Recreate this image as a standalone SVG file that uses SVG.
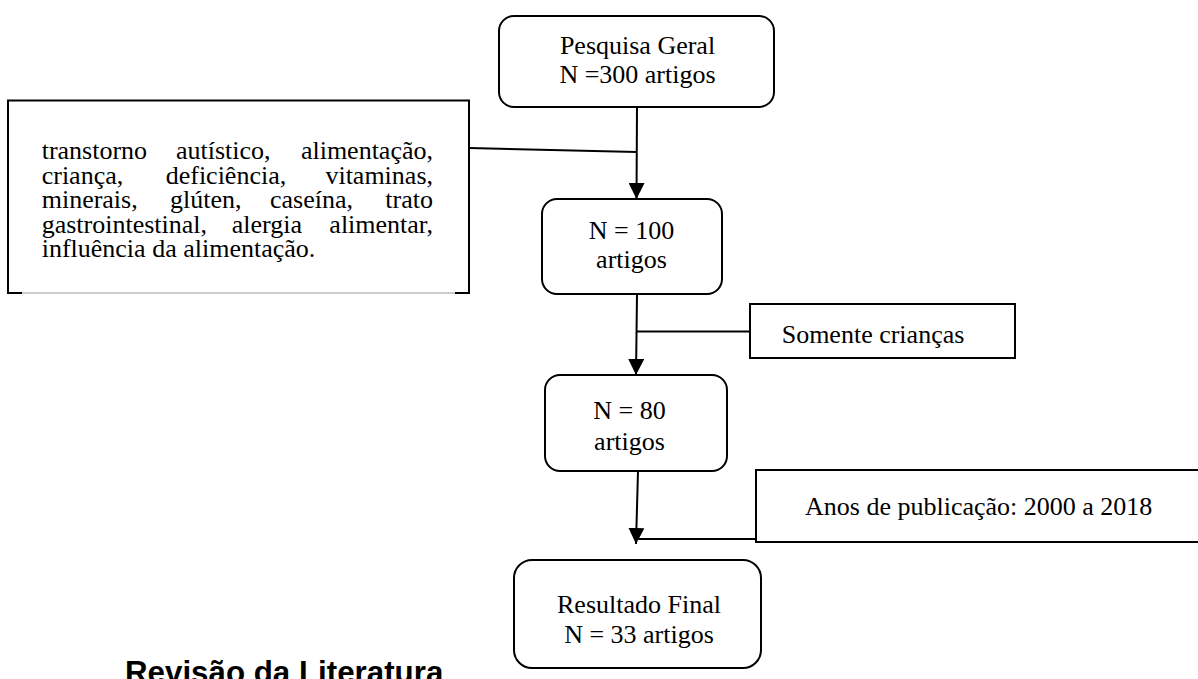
<svg xmlns="http://www.w3.org/2000/svg" width="1198" height="679" viewBox="0 0 1198 679">
<style>
.t{font-family:"Liberation Serif","Times New Roman",serif;font-size:26px;fill:#000}
.c{text-anchor:middle}
.box{fill:#fff;stroke:#000;stroke-width:2}
.ln{fill:none;stroke:#000;stroke-width:2}
.h{font-family:"Liberation Sans",Arial,sans-serif;font-size:31.3px;font-weight:bold;fill:#000}
</style>
<defs>
<marker id="ah" viewBox="0 0 16 16" refX="16" refY="8" markerWidth="16" markerHeight="16" markerUnits="userSpaceOnUse" orient="auto">
<path d="M0,0 L16,8 L0,16 Z" fill="#000"/>
</marker>
</defs>
<rect width="1198" height="679" fill="#fff"/>
<g id="connectors">
<line class="ln" x1="637" y1="107" x2="636.5" y2="199" marker-end="url(#ah)"/>
<line class="ln" x1="469" y1="148" x2="637" y2="152"/>
<line class="ln" x1="637" y1="294" x2="636" y2="375" marker-end="url(#ah)"/>
<line class="ln" x1="750" y1="331.5" x2="637" y2="331.5"/>
<line class="ln" x1="638" y1="471" x2="636" y2="544" marker-end="url(#ah)"/>
<line class="ln" x1="756" y1="539" x2="636" y2="539"/>
</g>
<g id="n-pesquisa">
<rect class="box" x="499" y="16" width="275" height="91" rx="15"/>
<text class="t c" x="637.5" y="54">Pesquisa Geral</text>
<text class="t c" x="637.5" y="83">N =300 artigos</text>
</g>
<g id="n-termos">
<path d="M8,293 V100.5 H469 V293" fill="#fff" stroke="#000" stroke-width="2"/>
<line x1="8" y1="293" x2="469" y2="293" stroke="#999" stroke-width="1"/>
<line x1="7" y1="293" x2="22" y2="293" stroke="#000" stroke-width="2"/>
<line x1="455" y1="293" x2="470" y2="293" stroke="#000" stroke-width="2"/>
<text class="t" y="159"><tspan x="41.7">transtorno</tspan><tspan x="176">autístico,</tspan><tspan x="433" text-anchor="end">alimentação,</tspan></text>
<text class="t" y="183.5"><tspan x="41.7">criança,</tspan><tspan x="165.7">deficiência,</tspan><tspan x="433" text-anchor="end">vitaminas,</tspan></text>
<text class="t" y="208"><tspan x="41.7">minerais,</tspan><tspan x="170">glúten,</tspan><tspan x="270">caseína,</tspan><tspan x="433" text-anchor="end">trato</tspan></text>
<text class="t" y="232.5"><tspan x="41.7">gastrointestinal,</tspan><tspan x="231.7">alergia</tspan><tspan x="433" text-anchor="end">alimentar,</tspan></text>
<text class="t" x="41.7" y="257">influência da alimentação.</text>
</g>
<g id="n-100">
<rect class="box" x="542" y="199" width="180" height="95" rx="15"/>
<text class="t c" x="631.5" y="239.3">N = 100</text>
<text class="t c" x="631.5" y="268.3">artigos</text>
</g>
<g id="n-criancas">
<rect class="box" x="750" y="304" width="265" height="54"/>
<text class="t" x="781.7" y="342.7">Somente crianças</text>
</g>
<g id="n-80">
<rect class="box" x="545" y="375" width="182" height="96" rx="15"/>
<text class="t c" x="629.5" y="419.3">N = 80</text>
<text class="t c" x="629.5" y="450">artigos</text>
</g>
<g id="n-anos">
<rect class="box" x="756" y="470" width="444" height="72"/>
<text class="t" x="805" y="515">Anos de publicação: 2000 a 2018</text>
</g>
<g id="n-final">
<rect class="box" x="514" y="560" width="247" height="108" rx="18"/>
<text class="t c" x="639" y="613.3">Resultado Final</text>
<text class="t c" x="639" y="643.3">N = 33 artigos</text>
</g>
<g id="title">
<text class="h" x="125" y="683">Revisão da Literatura</text>
</g>
</svg>
